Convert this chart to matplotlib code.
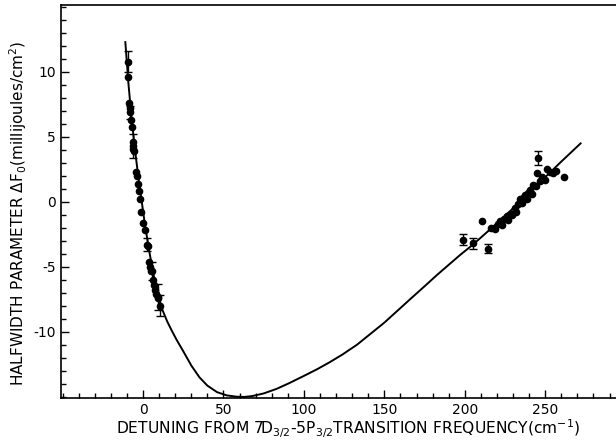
import numpy as np
from matplotlib import pyplot as plt

# fitted curve
curve_x = [-11, -9, -7, -5, -3, -1, 1, 4, 7, 10, 12, 15, 18, 21, 25, 30, 35, 40,
           46, 52, 58, 63, 68, 75, 83, 91, 100, 108, 116, 124, 133, 141, 150,
           158, 166, 175, 183, 190, 197, 205, 215, 230, 240, 250, 260, 272]
curve_y = [12.3, 9.0, 6.3, 4.0, 2.0, 0.2, -1.6, -3.9, -5.9, -7.5, -8.3, -9.2,
           -9.95, -10.65, -11.5, -12.6, -13.5, -14.15, -14.65, -14.9, -15.0,
           -15.02, -14.95, -14.75, -14.4, -13.95, -13.4, -12.9, -12.35, -11.75,
           -11.0, -10.2, -9.3, -8.4, -7.5, -6.5, -5.6, -4.85, -4.1, -3.3, -2.2,
           -0.5, 0.7, 1.9, 3.1, 4.5]

# measured points near zero detuning
left_x = [-9.2, -8.8, -8.3, -7.5, -7.0, -6.5, -6.0, -5.5, -4.5, -3.8, -3.2,
          -2.6, -2.0, -1.0, 0.2, 1.0, 3.0, 3.6, 4.2, 4.8, 6.0, 6.8, 7.5, 8.2, 9.0]
left_y = [9.6, 7.6, 7.2, 6.3, 5.8, 4.6, 4.1, 3.9, 2.3, 2.0, 1.4,
          0.8, 0.2, -0.8, -1.6, -2.2, -3.4, -4.6, -5.0, -5.3, -6.0, -6.4, -6.8, -7.1, -7.4]
left_err_x = [-9.5, -8.0, -6.2, 2.5, 5.5, 9.5, 10.5]
left_err_y = [10.8, 6.9, 4.3, -3.3, -5.3, -7.3, -8.0]
left_err = [0.8, 0.5, 0.9, 0.5, 0.7, 1.0, 0.8]

# measured points near 250 cm-1
right_x = [211, 216.5, 219, 220.5, 222, 223, 224.5, 226, 227, 228.5, 229.5, 231,
           232, 233, 234.5, 235.5, 236.5, 237.5, 238.5, 239.5, 240.5, 241.5,
           242.5, 244, 245, 246.5, 248, 250, 251, 253, 255, 257, 261.5]
right_y = [-1.5, -2.0, -2.1, -1.7, -1.5, -1.8, -1.3, -1.1, -1.4, -0.9, -1.0, -0.5,
           -0.8, -0.2, 0.2, -0.1, 0.3, 0.5, 0.2, 0.7, 0.9, 0.6,
           1.3, 1.2, 2.2, 1.6, 1.9, 1.7, 2.5, 2.3, 2.2, 2.4, 1.95]
right_err_x = [199.2, 205.4, 214.7, 245.8]
right_err_y = [-2.9, -3.2, -3.6, 3.4]
right_err = [0.45, 0.4, 0.35, 0.55]

plt.rcParams['axes.unicode_minus'] = False
plt.rcParams['font.family'] = ['DejaVu Sans']

fig = plt.figure(figsize=(6.16, 4.4), dpi=100)
ax = fig.add_axes([0.099, 0.0955, 0.901, 0.893])

ax.plot(curve_x, curve_y, color='black', lw=1.4)
ax.plot(left_x, left_y, 'o', color='black', ms=4.5)
ax.plot(right_x, right_y, 'o', color='black', ms=4.5)
ax.errorbar(left_err_x, left_err_y, yerr=left_err, fmt='o', color='black',
            ms=4.5, capsize=3, elinewidth=1, capthick=1)
ax.errorbar(right_err_x, right_err_y, yerr=right_err, fmt='o', color='black',
            ms=4.5, capsize=3, elinewidth=1, capthick=1)

ax.set_xlim(-51, 294)
ax.set_ylim(-15.1, 15.15)
ax.set_xticks([0, 50, 100, 150, 200, 250])
ax.set_xticks(np.arange(-50, 300, 10), minor=True)
ax.set_yticks([-10, -5, 0, 5, 10])
ax.set_yticks(np.arange(-15, 16, 1), minor=True)

ax.tick_params(which='both', direction='in', top=False, right=False, width=1)
ax.tick_params(which='major', length=6, labelsize=10, pad=3.5)
ax.tick_params(which='minor', length=3.5)
ax.spines['right'].set_visible(False)
for s in ['left', 'bottom', 'top']:
    ax.spines[s].set_linewidth(1.2)

ax.set_xlabel(r'DETUNING FROM 7D$_{3/2}$-5P$_{3/2}$TRANSITION FREQUENCY(cm$^{-1}$)',
              fontsize=11.2)
ax.xaxis.set_label_coords(0.517, -0.05)
ax.set_ylabel(r'HALFWIDTH PARAMETER $\Delta$F$_0$(millijoules/cm$^2$)',
              fontsize=11)
ax.yaxis.set_label_coords(-0.058, 0.47)

fig.savefig('out.png', dpi=100)
